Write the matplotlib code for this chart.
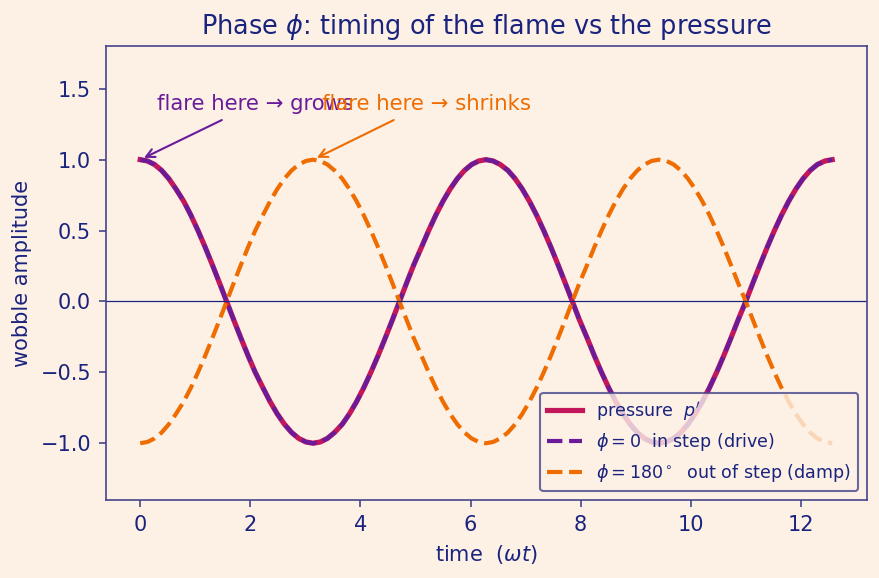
import matplotlib
matplotlib.use("Agg")
import matplotlib.pyplot as plt

# ------------------------------------------------------------
# Data (sampled every pi/24 over two full cycles, read off chart)
# ------------------------------------------------------------
time_wt = [0.00, 0.13, 0.26, 0.39, 0.52, 0.65, 0.79, 0.92, 1.05, 1.18,
           1.31, 1.44, 1.57, 1.70, 1.83, 1.96, 2.09, 2.23, 2.36, 2.49,
           2.62, 2.75, 2.88, 3.01, 3.14, 3.27, 3.40, 3.53, 3.67, 3.80,
           3.93, 4.06, 4.19, 4.32, 4.45, 4.58, 4.71, 4.84, 4.97, 5.11,
           5.24, 5.37, 5.50, 5.63, 5.76, 5.89, 6.02, 6.15, 6.28, 6.41,
           6.54, 6.68, 6.81, 6.94, 7.07, 7.20, 7.33, 7.46, 7.59, 7.72,
           7.85, 7.98, 8.12, 8.25, 8.38, 8.51, 8.64, 8.77, 8.90, 9.03,
           9.16, 9.29, 9.42, 9.56, 9.69, 9.82, 9.95, 10.08, 10.21, 10.34,
           10.47, 10.60, 10.73, 10.86, 11.00, 11.13, 11.26, 11.39, 11.52, 11.65,
           11.78, 11.91, 12.04, 12.17, 12.30, 12.44, 12.57]

pressure = [1.000, 0.991, 0.966, 0.924, 0.866, 0.793, 0.707, 0.609, 0.500, 0.383,
            0.259, 0.131, 0.000, -0.131, -0.259, -0.383, -0.500, -0.609, -0.707, -0.793,
            -0.866, -0.924, -0.966, -0.991, -1.000, -0.991, -0.966, -0.924, -0.866, -0.793,
            -0.707, -0.609, -0.500, -0.383, -0.259, -0.131, 0.000, 0.131, 0.259, 0.383,
            0.500, 0.609, 0.707, 0.793, 0.866, 0.924, 0.966, 0.991, 1.000, 0.991,
            0.966, 0.924, 0.866, 0.793, 0.707, 0.609, 0.500, 0.383, 0.259, 0.131,
            0.000, -0.131, -0.259, -0.383, -0.500, -0.609, -0.707, -0.793, -0.866, -0.924,
            -0.966, -0.991, -1.000, -0.991, -0.966, -0.924, -0.866, -0.793, -0.707, -0.609,
            -0.500, -0.383, -0.259, -0.131, 0.000, 0.131, 0.259, 0.383, 0.500, 0.609,
            0.707, 0.793, 0.866, 0.924, 0.966, 0.991, 1.000]

flame_in_step = list(pressure)  # phi = 0 : flame rides with the pressure

flame_out_step = [-1.000, -0.991, -0.966, -0.924, -0.866, -0.793, -0.707, -0.609, -0.500, -0.383,
                  -0.259, -0.131, 0.000, 0.131, 0.259, 0.383, 0.500, 0.609, 0.707, 0.793,
                  0.866, 0.924, 0.966, 0.991, 1.000, 0.991, 0.966, 0.924, 0.866, 0.793,
                  0.707, 0.609, 0.500, 0.383, 0.259, 0.131, 0.000, -0.131, -0.259, -0.383,
                  -0.500, -0.609, -0.707, -0.793, -0.866, -0.924, -0.966, -0.991, -1.000, -0.991,
                  -0.966, -0.924, -0.866, -0.793, -0.707, -0.609, -0.500, -0.383, -0.259, -0.131,
                  0.000, 0.131, 0.259, 0.383, 0.500, 0.609, 0.707, 0.793, 0.866, 0.924,
                  0.966, 0.991, 1.000, 0.991, 0.966, 0.924, 0.866, 0.793, 0.707, 0.609,
                  0.500, 0.383, 0.259, 0.131, 0.000, -0.131, -0.259, -0.383, -0.500, -0.609,
                  -0.707, -0.793, -0.866, -0.924, -0.966, -0.991, -1.000]

# ------------------------------------------------------------
# Style
# ------------------------------------------------------------
BG = "#fdf1e6"
INK = "#1a237e"
SPINE = "#45458a"
C_P = "#c2185b"
C_IN = "#6a1b9a"
C_OUT = "#ef6c00"

fig = plt.figure(figsize=(880 / 150, 578 / 150), dpi=150, facecolor=BG)
ax = fig.add_axes([0.120, 0.135, 0.865, 0.785], facecolor=BG)

ax.plot(time_wt, pressure, color=C_P, lw=2.5, label=r"pressure  $p'$")
ax.plot(time_wt, flame_in_step, color=C_IN, lw=2, ls="--", label=r"$\phi=0$  in step (drive)")
ax.plot(time_wt, flame_out_step, color=C_OUT, lw=2, ls="--",
        label=r"$\phi=180^\circ$  out of step (damp)")
ax.axhline(0, color=INK, lw=0.6)

ax.set_ylim(-1.4, 1.8)

# where the flame flares at the pressure peak
ax.annotate("flare here → grows", xy=(time_wt[0], flame_in_step[0]), xytext=(0.3, 1.35),
            color=C_IN, fontsize=10.2,
            arrowprops=dict(arrowstyle="->", color=C_IN, lw=1))
ax.annotate("flare here → shrinks", xy=(time_wt[24], flame_out_step[24]), xytext=(3.3, 1.35),
            color=C_OUT, fontsize=10.2,
            arrowprops=dict(arrowstyle="->", color=C_OUT, lw=1))

ax.set_title(r"Phase $\phi$: timing of the flame vs the pressure", color=INK, fontsize=12.3)
ax.set_xlabel(r"time  $(\omega t)$", color=INK, fontsize=10)
ax.set_ylabel("wobble amplitude", color=INK, fontsize=10)
ax.tick_params(colors=SPINE, labelcolor=INK, labelsize=10)
for s in ax.spines.values():
    s.set_color(SPINE)

ax.legend(loc="lower right", fontsize=8.4, facecolor=BG, edgecolor=SPINE,
          framealpha=0.8, labelcolor=INK)

fig.savefig("out.png", dpi=150, facecolor=BG)
